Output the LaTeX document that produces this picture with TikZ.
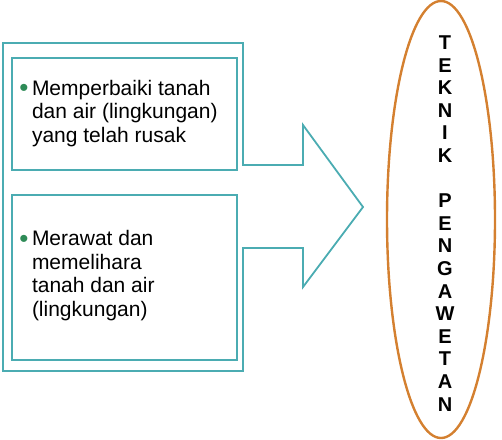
\documentclass[tikz,border=0pt]{standalone}
\usepackage{fontspec}
\setmainfont{Liberation Sans}
\usepackage{xcolor}
\usetikzlibrary{shapes.geometric}
\definecolor{tealline}{RGB}{75,172,178}
\definecolor{orangeline}{RGB}{212,128,48}
\definecolor{bulletgreen}{RGB}{46,139,87}
\newcommand{\bulletdot}{\raisebox{-1.5pt}{\textcolor{bulletgreen}{\fontsize{26}{26}\selectfont\textbullet}}}
\tikzset{
  itembox/.style={draw=tealline, line width=1.6pt, minimum width=225pt, inner sep=0pt},
  itemtext/.style={anchor=west, inner sep=0pt, font=\fontsize{21}{23.5}\selectfont},
}

\begin{document}
\begin{tikzpicture}[x=1pt,y=-1pt]
\useasboundingbox (0,0) rectangle (502,439);
%%%BIG ARROW
\draw[tealline, line width=1.8pt, line join=miter]
(3,43) -- (243,43) -- (243,165) -- (303,165) -- (303,125) -- (363,207)
-- (303,287) -- (303,248) -- (243,248) -- (243,371) -- (3,371) -- cycle;
%%%BOXES
\node[itembox, minimum height=112pt] (repair) at (124.5,114) {};
\node[itembox, minimum height=165pt] (care) at (124.5,277.5) {};
\node[itemtext] (repairtext) at ([xshift=8pt]repair.west)
{\begin{tabular}{@{}l@{\hspace{3.5pt}}l@{}}
\bulletdot & Memperbaiki tanah\\
 & dan air (lingkungan)\\
 & yang telah rusak
\end{tabular}};
\node[itemtext] (caretext) at ([xshift=8pt,yshift=1pt]care.west)
{\begin{tabular}{@{}l@{\hspace{3.5pt}}l@{}}
\bulletdot & Merawat dan\\
 & memelihara\\
 & tanah dan air\\
 & (lingkungan)
\end{tabular}};
%%%ELLIPSE
\node[ellipse, draw=orangeline, line width=2.4pt, minimum width=108pt, minimum height=437pt] (teknik) at (441,219.5) {};
\node[align=center, inner sep=0pt, font=\bfseries\fontsize{20}{22.6}\selectfont] (teknikname) at ([xshift=4pt,yshift=-4pt]teknik.center)
{T\\E\\K\\N\\I\\K\\[22.6pt]P\\E\\N\\G\\A\\W\\E\\T\\A\\N};
\end{tikzpicture}
\end{document}
